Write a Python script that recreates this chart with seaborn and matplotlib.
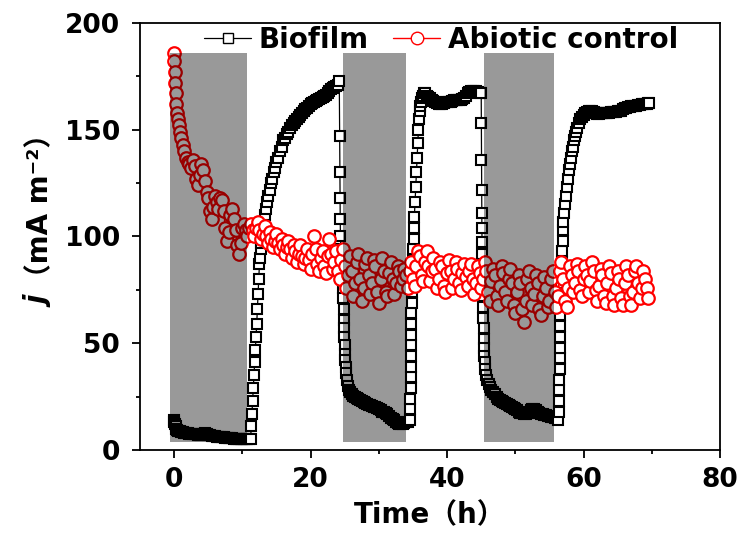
import numpy as np
import pandas as pd
import matplotlib
matplotlib.use("Agg")
import matplotlib.pyplot as plt
import seaborn as sns
from matplotlib.ticker import MultipleLocator

# illumination off periods (h)
dark_start = [-0.6, 24.7, 45.35]
dark_end = [10.65, 34.05, 55.7]
dark_low, dark_high = 3.7, 186

# ---- biofilm, j in mA m-2, split by phase ----
dark1_t = [0, 0.05, 0.1, 0.2, 0.3, 0.45, 0.6, 0.8,
           1.0, 1.25, 1.5, 1.75, 2.0, 2.25, 2.5, 2.75, 3.0, 3.25, 3.5, 3.75, 4.0, 4.25, 4.5, 4.75,
           5.0, 5.25, 5.5, 5.75, 6.0, 6.25, 6.5, 6.75, 7.0, 7.25, 7.5, 7.75, 8.0, 8.25, 8.5, 8.75,
           9.0, 9.25, 9.5, 9.75, 10.0, 10.25, 10.5, 10.75, 11.0]
dark1_j = [14, 13, 12, 11, 10, 9.5, 9, 8.8, 8.5, 8.3, 8.1, 8.0, 7.8, 7.7, 7.6, 7.5, 7.4, 7.3, 7.2, 7.1,
           7.0, 7.5, 8.0, 7.6, 7.0, 6.8, 6.6, 6.5, 6.4, 6.3, 6.2, 6.1, 6.0, 5.9, 5.8, 5.7, 5.6, 5.5,
           5.4, 5.3, 5.2, 5.2, 5.1, 5.1, 5.0, 5.0, 5.0, 5.0, 5.0]

light1_t = [11.2, 11.3, 11.4, 11.5, 11.6, 11.7, 11.8, 11.9, 12.0, 12.1, 12.2, 12.3, 12.4, 12.5, 12.6,
            12.7, 12.8, 12.9, 13.05, 13.2, 13.35, 13.5, 13.65, 13.8, 14.0, 14.2, 14.4, 14.6, 14.8,
            15.0, 15.25, 15.5, 15.75, 16.0, 16.25, 16.5, 16.75, 17.0, 17.25, 17.5, 17.75, 18.0, 18.25,
            18.5, 18.75, 19.0, 19.25, 19.5, 19.75, 20.0, 20.25, 20.5, 20.75, 21.0, 21.25, 21.5, 21.75,
            22.0, 22.25, 22.5, 22.75, 23.0, 23.25, 23.5, 23.75, 24.0, 24.2]
light1_j = [5, 11, 17, 23, 29, 35, 41, 47, 53, 59, 66, 73, 80, 87, 90, 94, 97, 100,
            104, 107, 110, 113, 116, 119, 122, 125, 127, 130, 132,
            135, 137, 140, 142, 145, 146, 148, 149, 151, 152, 153, 154, 155, 156, 157, 158, 159, 159.5,
            160, 161, 162, 162.5, 163, 163.5, 164, 164.5, 165, 165.5, 166, 166.5, 167, 168, 169, 169.5,
            170, 170.5, 171, 173]

drop1_t = [24.25, 24.28, 24.31, 24.34, 24.37, 24.45, 24.55, 24.65, 24.72, 24.78, 24.84, 24.88, 24.92,
           24.96, 25.0, 25.04, 25.08, 25.12, 25.18, 25.3, 25.45, 25.6, 25.8, 26.0,
           26.25, 26.5, 26.75, 27.0, 27.25, 27.5, 27.75, 28.0, 28.25, 28.5, 28.75, 29.0, 29.25, 29.5,
           29.75, 30.0, 30.25, 30.5, 30.75, 31.0, 31.25, 31.5, 31.75, 32.0, 32.25, 32.5, 32.75, 33.0,
           33.25, 33.5, 33.75, 34.0, 34.3]
drop1_j = [147, 130, 118, 108, 100, 94, 88, 82, 76, 71, 66, 61, 57, 53, 49, 45, 42, 39, 36, 33, 30,
           28, 27, 26,
           25.5, 25, 24.5, 24, 23.5, 23, 22.5, 22, 21.5, 21, 21, 20.5, 20, 20, 19.5, 19, 18.5, 18, 18,
           17.5, 17, 16, 15, 14.5, 14, 13, 12.5, 12, 12, 12, 12.5, 13, 13]

light2_t = [34.55, 34.6, 34.62, 34.64, 34.66, 34.68, 34.7, 34.72, 34.74, 34.76, 34.78, 34.8,
            34.85, 34.9, 34.95, 35.0, 35.05, 35.1, 35.15, 35.2,
            35.3, 35.4, 35.5, 35.6, 35.7, 35.8, 35.9, 36.0, 36.1, 36.2, 36.35, 36.5, 36.65, 36.8,
            37.0, 37.25, 37.5, 37.75, 38.0, 38.25, 38.5, 38.75, 39.0, 39.25, 39.5, 39.75, 40.0, 40.25,
            40.5, 40.75, 41.0, 41.25, 41.5, 41.75, 42.0, 42.25, 42.5, 42.75, 43.0, 43.25, 43.5, 43.75,
            44.0, 44.25, 44.5, 44.75, 45.0]
light2_j = [14, 19, 24, 29, 34, 39, 44, 49, 54, 59, 64, 69,
            74, 79, 84, 89, 94, 99, 104, 109,
            116, 123, 130, 137, 144, 150, 155, 159, 161, 163, 165, 166, 167, 167,
            166, 165.5, 165, 164, 163.5, 163, 162.5, 162, 162, 162, 162.5, 163, 163, 163, 163, 163.5,
            164, 164, 164, 164, 164, 164.5, 165, 166, 167, 167.5, 168, 168, 168, 168, 167.5, 167, 167]

drop2_t = [45.02, 45.04, 45.06, 45.08, 45.1, 45.12, 45.14, 45.17, 45.2, 45.23, 45.26, 45.29, 45.32,
           45.35, 45.38, 45.41, 45.45, 45.5, 45.6, 45.75, 45.9, 46.1, 46.3, 46.5,
           46.75, 47.0, 47.25, 47.5, 47.75, 48.0, 48.25, 48.5, 48.75, 49.0, 49.25, 49.5, 49.75, 50.0,
           50.25, 50.5, 50.75, 51.0, 51.25, 51.5, 51.75, 52.0, 52.25, 52.5, 52.75, 53.0, 53.25, 53.5,
           53.75, 54.0, 54.25, 54.5, 54.75, 55.0, 55.25, 55.5, 55.75, 56.0]
drop2_j = [153, 136, 122, 111, 104, 97.5, 92, 87, 82, 77, 72, 67, 62, 57, 52, 48,
           44, 41, 38, 35, 33, 31, 29.5, 28,
           27, 26, 25, 24, 23.5, 23, 22.5, 22, 21.5, 21, 20.5, 20, 19.5, 19, 18.5, 18, 17.5, 17.5,
           17, 17, 17.5, 18, 18.5, 19, 19, 18.5, 18, 17.5, 17, 17, 16.5, 16.5, 16, 16, 15.5, 15.5,
           15, 15]

light3_t = [56.3, 56.4, 56.42, 56.44, 56.46, 56.48, 56.5, 56.52, 56.54, 56.56, 56.58,
            56.62, 56.67, 56.72, 56.77, 56.82, 56.87, 56.92, 56.97, 57.0,
            57.15, 57.3, 57.45, 57.6, 57.75, 57.9, 58.05, 58.2, 58.35, 58.5, 58.65, 58.8, 58.95, 59.1,
            59.3, 59.5,
            59.75, 60.0, 60.25, 60.5, 60.75, 61.0, 61.25, 61.5, 61.75, 62.0, 62.25, 62.5, 62.75, 63.0,
            63.25, 63.5, 63.75, 64.0, 64.25, 64.5, 64.75, 65.0, 65.25, 65.5, 65.75, 66.0, 66.25, 66.5,
            66.75, 67.0, 67.25, 67.5, 67.75, 68.0, 68.25, 68.5, 68.75, 69.0, 69.25, 69.5, 69.6]
light3_j = [14, 18, 23, 28, 33, 38, 43, 48, 53, 58, 63,
            68, 73, 78, 83, 88, 93, 98, 103, 107,
            111, 115, 119, 123, 127, 131, 134, 137, 140, 142, 145, 147, 149, 151,
            153, 155,
            156, 157, 158, 158.5, 159, 159, 159, 158.5, 158, 157.5, 157.5, 158, 158, 158, 158, 158,
            158, 158.5, 158.5, 158.5, 158.5, 159, 159, 159, 159.5, 160, 160, 160.5, 160.5, 161, 161,
            161, 161, 161.5, 161.5, 162, 162, 162, 162, 162.5, 162.5]

# ---- abiotic control, j in mA m-2 ----
abiotic_t = [
    0, 0.05, 0.1, 0.15, 0.2, 0.25, 0.35, 0.5, 0.65, 0.8, 1.0, 1.25, 1.5, 1.75,
    2.0, 2.25, 2.5, 2.75, 3.0, 3.25, 3.5, 3.75, 4.0, 4.25, 4.5, 4.75, 5.0, 5.25, 5.5, 5.75, 6.0, 6.25, 6.5, 6.75,
    7.0, 7.25, 7.5, 7.75, 8.0, 8.25, 8.5, 8.75, 9.0, 9.25, 9.5, 9.75, 10.0, 10.25, 10.5, 10.75, 11.0, 11.25, 11.5, 11.75,
    12.0, 12.25, 12.5, 12.75, 13.0, 13.25, 13.5, 13.75, 14.0, 14.25, 14.5, 14.75, 15.0, 15.25, 15.5, 15.75, 16.0, 16.25, 16.5, 16.75,
    17.0, 17.25, 17.5, 17.75, 18.0, 18.25, 18.5, 18.75, 19.0, 19.25, 19.5, 19.75, 20.0, 20.25, 20.5, 20.75, 21.0, 21.25, 21.5, 21.75,
    22.0, 22.25, 22.5, 22.75, 23.0, 23.25, 23.5, 23.75, 24.0, 24.25, 24.5, 24.75, 25.0, 25.25, 25.5, 25.75, 26.0, 26.25, 26.5, 26.75,
    27.0, 27.25, 27.5, 27.75, 28.0, 28.25, 28.5, 28.75, 29.0, 29.25, 29.5, 29.75, 30.0, 30.25, 30.5, 30.75, 31.0, 31.25, 31.5, 31.75,
    32.0, 32.25, 32.5, 32.75, 33.0, 33.25, 33.5, 33.75, 34.0, 34.25, 34.5, 34.75, 35.0, 35.25, 35.5, 35.75, 36.0, 36.25, 36.5, 36.75,
    37.0, 37.25, 37.5, 37.75, 38.0, 38.25, 38.5, 38.75, 39.0, 39.25, 39.5, 39.75, 40.0, 40.25, 40.5, 40.75, 41.0, 41.25, 41.5, 41.75,
    42.0, 42.25, 42.5, 42.75, 43.0, 43.25, 43.5, 43.75, 44.0, 44.25, 44.5, 44.75, 45.0, 45.25, 45.5, 45.75, 46.0, 46.25, 46.5, 46.75,
    47.0, 47.25, 47.5, 47.75, 48.0, 48.25, 48.5, 48.75, 49.0, 49.25, 49.5, 49.75, 50.0, 50.25, 50.5, 50.75, 51.0, 51.25, 51.5, 51.75,
    52.0, 52.25, 52.5, 52.75, 53.0, 53.25, 53.5, 53.75, 54.0, 54.25, 54.5, 54.75, 55.0, 55.25, 55.5, 55.75, 56.0, 56.25, 56.5, 56.75,
    57.0, 57.25, 57.5, 57.75, 58.0, 58.25, 58.5, 58.75, 59.0, 59.25, 59.5, 59.75, 60.0, 60.25, 60.5, 60.75, 61.0, 61.25, 61.5, 61.75,
    62.0, 62.25, 62.5, 62.75, 63.0, 63.25, 63.5, 63.75, 64.0, 64.25, 64.5, 64.75, 65.0, 65.25, 65.5, 65.75, 66.0, 66.25, 66.5, 66.75,
    67.0, 67.25, 67.5, 67.75, 68.0, 68.25, 68.5, 68.75, 69.0, 69.25, 69.5,
]
abiotic_j = [
    186, 182, 177, 172, 167, 162, 158, 155, 152, 149, 146, 143, 140, 137,
    135, 134, 132, 136, 133, 127, 124, 129, 134, 131, 126, 121, 118, 112, 108, 114, 119, 116, 113, 118,
    117, 112, 104, 98, 102, 110, 113, 108, 103, 96, 92, 97, 104, 106, 103, 100, 104, 106, 103, 100,
    104, 107, 103, 99, 101, 105, 100, 97, 102, 99, 95, 98, 101, 97, 94, 99, 96, 92, 95, 98,
    94, 90, 96, 93, 88, 92, 96, 91, 87, 90, 94, 89, 85, 92, 100, 94, 87, 84, 90, 93,
    86, 83, 91, 99, 92, 85, 88, 93, 84, 80, 89, 94, 86, 76, 82, 91, 84, 72, 78, 88,
    92, 80, 70, 76, 87, 90, 82, 73, 78, 89, 86, 74, 69, 80, 90, 84, 74, 72, 83, 88,
    80, 73, 78, 86, 84, 77, 80, 85, 82, 76, 84, 88, 80, 77, 86, 93, 91, 82, 79, 88,
    93, 86, 79, 84, 90, 85, 76, 80, 88, 86, 77, 74, 83, 89, 84, 76, 80, 88, 85, 78,
    75, 83, 87, 81, 77, 84, 87, 80, 73, 78, 86, 83, 76, 80, 88, 84, 74, 70, 79, 85,
    82, 72, 68, 77, 86, 83, 74, 70, 80, 85, 78, 68, 64, 74, 82, 78, 66, 60, 70, 80,
    84, 76, 68, 73, 82, 78, 66, 63, 72, 81, 76, 67, 70, 80, 84, 74, 67, 72, 84, 88,
    80, 70, 67, 76, 86, 82, 74, 78, 87, 84, 75, 72, 80, 86, 82, 74, 79, 88, 84, 75,
    70, 77, 85, 82, 72, 69, 78, 86, 83, 72, 68, 76, 84, 80, 71, 68, 78, 86, 82, 72,
    68, 74, 84, 86, 78, 71, 76, 84, 80, 76, 71,
]

biofilm = pd.DataFrame({
    "t": dark1_t + light1_t + drop1_t + light2_t + drop2_t + light3_t,
    "j": dark1_j + light1_j + drop1_j + light2_j + drop2_j + light3_j,
})
abiotic = pd.DataFrame({"t": abiotic_t, "j": abiotic_j})

sns.set_style("ticks")
plt.rcParams["font.family"] = ["DejaVu Sans", "Noto Sans CJK SC"]
plt.rcParams["font.weight"] = "bold"
for key in ["text.color", "axes.labelcolor", "xtick.color", "ytick.color", "axes.edgecolor"]:
    plt.rcParams[key] = "black"

fig = plt.figure(figsize=(7.46, 5.4), dpi=100)
ax = fig.add_axes([0.1877, 0.1667, 0.7775, 0.7907])

sns.lineplot(data=biofilm, x="t", y="j", ax=ax, estimator=None, sort=False,
             color="black", lw=0.9, marker="s", markersize=6.5,
             markerfacecolor="white", markeredgecolor="black", markeredgewidth=1.5,
             label="Biofilm", zorder=2)
sns.lineplot(data=abiotic, x="t", y="j", ax=ax, estimator=None, sort=False,
             color="red", lw=1.0, marker="o", markersize=9,
             markerfacecolor="white", markeredgecolor="red", markeredgewidth=1.6,
             label="Abiotic control", zorder=3)

# dark periods drawn over the data
for x0, x1 in zip(dark_start, dark_end):
    ax.fill_between([x0, x1], dark_low, dark_high, color="black", alpha=0.4, lw=0, zorder=4)

ax.set_xlim(-5, 80)
ax.set_ylim(0, 200)
ax.xaxis.set_major_locator(MultipleLocator(20))
ax.xaxis.set_minor_locator(MultipleLocator(10))
ax.yaxis.set_major_locator(MultipleLocator(50))
ax.yaxis.set_minor_locator(MultipleLocator(25))
ax.tick_params(which="major", length=6, width=1.3, labelsize=19)
ax.tick_params(axis="x", which="major", pad=6)
ax.tick_params(axis="y", which="major", pad=8.5)
ax.tick_params(which="minor", length=3, width=1.3)
for lab in ax.get_xticklabels() + ax.get_yticklabels():
    lab.set_fontweight("bold")
for sp in ax.spines.values():
    sp.set_linewidth(1.3)

ax.set_xlabel("Time（h）", fontsize=20, fontweight="bold", labelpad=6)
ax.set_ylabel("")
fig.text(0.054, 0.44, "j", rotation=90, ha="center", va="center",
         fontsize=20, fontweight="bold", fontstyle="italic")
fig.text(0.054, 0.62, "（mA m⁻²）", rotation=90, ha="center", va="center",
         fontsize=20, fontweight="bold")

leg = ax.legend(loc="center", bbox_to_anchor=(0.519, 0.96), ncol=2, frameon=False,
                handlelength=1.7, handletextpad=0.27, columnspacing=0.87,
                prop={"weight": "bold", "size": 20})
for h in leg.legend_handles:
    h.set_markeredgewidth(1.0)

fig.savefig("out.png", dpi=100)
